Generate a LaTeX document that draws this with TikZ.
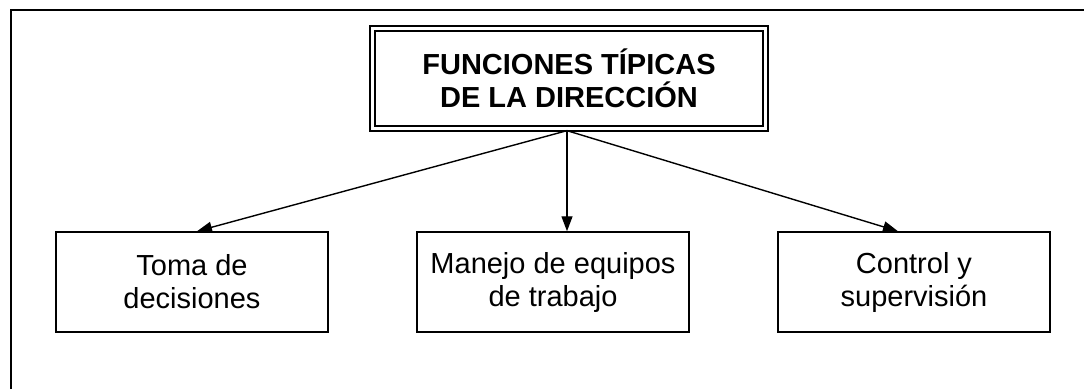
\documentclass[tikz,border=0pt]{standalone}
\usepackage{fontspec}
\setmainfont{Liberation Sans}
\usetikzlibrary{arrows.meta}
\begin{document}
\begin{tikzpicture}[x=1pt,y=-1pt,
  frame/.style={line width=2pt},
  box/.style={draw, line width=1.5pt, minimum width=272pt, minimum height=100pt,
    align=center, font=\fontsize{29}{33}\selectfont, inner sep=0pt},
  titlebox/.style={draw, line width=1.3pt, minimum width=388pt, minimum height=95pt,
    align=center, font=\bfseries\fontsize{29}{33}\selectfont, inner sep=0pt},
  arr/.style={line width=1.4pt, -{Triangle[length=15pt,width=11pt]}}]
\useasboundingbox (0,0) rectangle (1084,389);
\draw[frame] (11,389) -- (11,10) -- (1084,10);
\node[titlebox] (title) at (569,78.5) {FUNCIONES TÍPICAS\\DE LA DIRECCIÓN};
\draw[line width=2.3pt] ([shift={(-4.5,-4.5)}]title.north west) rectangle ([shift={(4.5,4.5)}]title.south east);
\node[box] (b1) at (192,282) {Toma de\\decisiones};
\node[box] (b2) at (553,282) {Manejo de equipos\\de trabajo};
\node[box] (b3) at (914,282) {Control y\\supervisión};
\coordinate (s) at ([xshift=-2pt,yshift=-4pt]title.south);
\draw[arr] (s) -- ([xshift=5pt]b1.north);
\draw[arr] (s) -- (s |- b2.north);
\draw[arr] (s) -- ([xshift=-16pt]b3.north);
\end{tikzpicture}
\end{document}
